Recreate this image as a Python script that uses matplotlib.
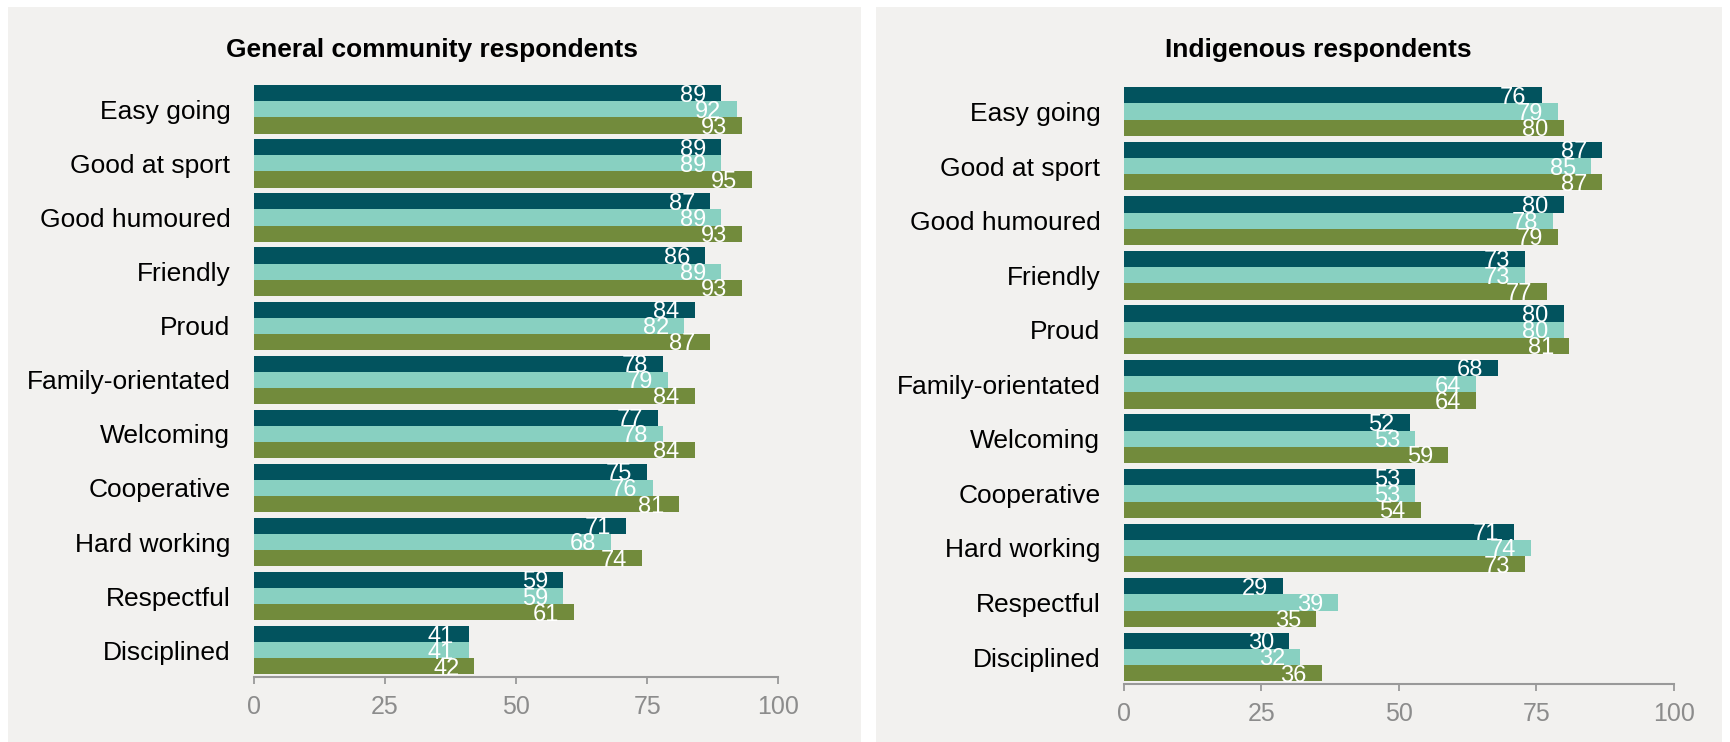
import matplotlib
matplotlib.use("Agg")
import matplotlib.pyplot as plt
from matplotlib.patches import Rectangle
import numpy as np

plt.rcParams['font.family'] = ['Liberation Sans', 'DejaVu Sans']

categories = ["Easy going", "Good at sport", "Good humoured", "Friendly", "Proud",
              "Family-orientated", "Welcoming", "Cooperative", "Hard working",
              "Respectful", "Disciplined"]

general_s1 = [89, 89, 87, 86, 84, 78, 77, 75, 71, 59, 41]
general_s2 = [92, 89, 89, 89, 82, 79, 78, 76, 68, 59, 41]
general_s3 = [93, 95, 93, 93, 87, 84, 84, 81, 74, 61, 42]

indig_s1 = [76, 87, 80, 73, 80, 68, 52, 53, 71, 29, 30]
indig_s2 = [79, 85, 78, 73, 80, 64, 53, 53, 74, 39, 32]
indig_s3 = [80, 87, 79, 77, 81, 64, 59, 54, 73, 35, 36]

titles = ["General community respondents", "Indigenous respondents"]
xticks = [0, 25, 50, 75, 100]

colors = ["#02535e", "#88d0c1", "#728b3c"]
panel_bg = "#f2f1ef"
tick_grey = "#8c8c8c"

W, H = 1730, 742
fig = plt.figure(figsize=(W / 100, H / 100), dpi=100)
fig.patch.set_facecolor("white")

def px(x0, y0, x1, y1):
    # pixel box (top-left origin) -> figure fraction [left, bottom, width, height]
    return [x0 / W, 1 - y1 / H, (x1 - x0) / W, (y1 - y0) / H]

# panel backgrounds
for (x0, x1) in [(8, 861), (876, 1722)]:
    b = px(x0, 7, x1, 742)
    fig.patches.append(Rectangle((b[0], b[1]), b[2], b[3], transform=fig.transFigure,
                                 facecolor=panel_bg, edgecolor="none", zorder=-10))

axes_boxes = [px(254, 82.3, 778.5, 677.3), px(1124, 84.3, 1673.6, 684.3)]
title_pos = [(432, 56.7), (1318, 56.7)]
datasets = [(general_s1, general_s2, general_s3), (indig_s1, indig_s2, indig_s3)]

y = np.arange(len(categories))
bh = 0.298
for ax_box, (tx, ty), title, series in zip(axes_boxes, title_pos, titles, datasets):
    ax = fig.add_axes(ax_box)
    ax.set_facecolor("none")
    for k, (vals, col) in enumerate(zip(series, colors)):
        pos = y + (k - 1) * bh
        ax.barh(pos, vals, height=bh, color=col, edgecolor="none")
        for p, v in zip(pos, vals):
            ax.annotate(str(v), xy=(v, p), xytext=(-15, -8.4), textcoords="offset pixels",
                        ha="right", va="baseline", color="white", fontsize=17)
    ax.set_xlim(0, 100)
    ax.set_ylim(len(categories) - 0.5, -0.5)
    ax.set_yticks(y)
    ax.set_yticklabels(categories, fontsize=19, color="black")
    ax.tick_params(axis="y", length=0, pad=17)
    ax.set_xticks(xticks)
    ax.set_xticklabels([str(t) for t in xticks], fontsize=18, color=tick_grey)
    ax.tick_params(axis="x", length=5, width=1.3, color="#999999", pad=8)
    for s in ["top", "right", "left"]:
        ax.spines[s].set_visible(False)
    ax.spines["bottom"].set_color("#999999")
    ax.spines["bottom"].set_linewidth(1.5)
    fig.text(tx / W, 1 - ty / H, title, ha="center", va="baseline",
             fontsize=19, fontweight="bold", color="black")

fig.savefig("out.png", dpi=100, facecolor="white")
